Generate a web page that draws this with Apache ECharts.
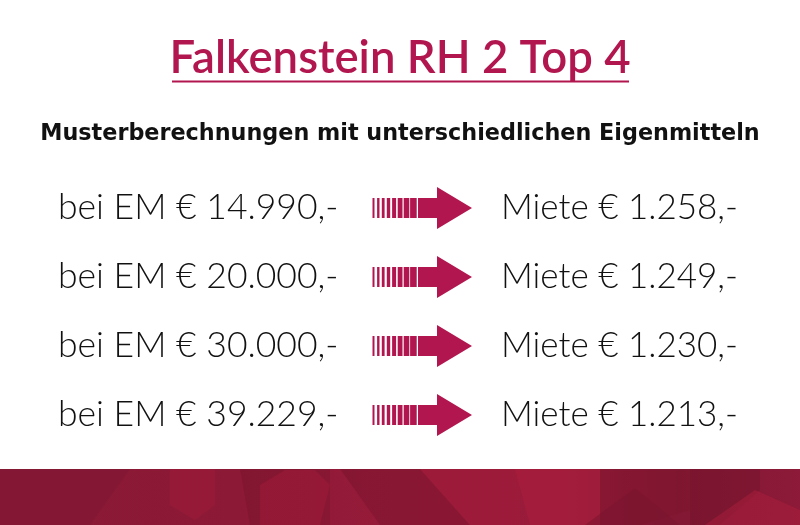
<!DOCTYPE html>
<html>
<head>
<meta charset="utf-8">
<script src="https://cdn.jsdelivr.net/npm/echarts@6/dist/echarts.min.js"></script>
<style>
html,body{margin:0;padding:0;background:#fff;}
#c{width:800px;height:525px;}
</style>
</head>
<body>
<div id="c"></div>
<script>
// ---- data ----
const titleText = 'Falkenstein RH 2 Top 4';
const subtitleText = 'Musterberechnungen mit unterschiedlichen Eigenmitteln';
const eigenmittel = [14990, 20000, 30000, 39229];
const miete = [1258, 1249, 1230, 1213];
const rowLabels = ['A', 'B', 'C', 'D'];

// ---- style ----
const accent = '#B2164F';
const textFont = 'Lato';

function fmt(n) {
  return String(n).replace(/\B(?=(\d{3})+(?!\d))/g, '.');
}

const chart = echarts.init(document.getElementById('c'), null, {renderer: 'canvas'});

const rowData = rowLabels.map((r, i) => [0, i]);

// dashed-to-solid arrow geometry (relative to arrow start, row centre)
const barSegs = [[0,2],[4.6,2.4],[9.3,2.8],[14.3,3.4],[19.6,4],[25.2,4.8],[31.2,5.6],[37.6,6.6]];
const solidStart = 45.5, headBase = 64.5, tip = 99.5, shaftHalf = 10, headHalf = 21;

function renderItem(params, api) {
  const idx = api.value(1);
  const y = api.coord([0, idx])[1];
  const ax = 372.5;
  const children = [];
  children.push({
    type: 'text',
    style: {
      x: 58, y: y,
      text: 'bei EM € ' + fmt(eigenmittel[idx]) + ',-',
      fill: '#111', font: '300 35.5px ' + textFont,
      verticalAlign: 'middle', align: 'left'
    }
  });
  barSegs.forEach(b => {
    children.push({
      type: 'rect',
      shape: {x: ax + b[0], y: y - shaftHalf, width: b[1], height: shaftHalf * 2},
      style: {fill: accent}
    });
  });
  children.push({
    type: 'polygon',
    shape: {points: [
      [ax + solidStart, y - shaftHalf], [ax + headBase, y - shaftHalf], [ax + headBase, y - headHalf],
      [ax + tip, y], [ax + headBase, y + headHalf], [ax + headBase, y + shaftHalf], [ax + solidStart, y + shaftHalf]
    ]},
    style: {fill: accent}
  });
  children.push({
    type: 'text',
    style: {
      x: 501, y: y,
      text: 'Miete € ' + fmt(miete[idx]) + ',-',
      fill: '#111', font: '300 35px ' + textFont,
      verticalAlign: 'middle', align: 'left'
    }
  });
  return {type: 'group', children: children};
}

// bottom band decorative polygons
const bandTop = 469;
const bandPolys = [
  {pts: [[0,bandTop],[130,bandTop],[90,525],[0,525]], c: 'rgba(120,20,45,0.35)'},
  {pts: [[170,bandTop],[215,bandTop],[215,505],[195,520],[170,505]], c: 'rgba(170,30,60,0.35)'},
  {pts: [[240,bandTop],[330,bandTop],[330,525],[250,525]], c: 'rgba(110,18,40,0.3)'},
  {pts: [[260,485],[285,470],[315,470],[330,485],[320,525],[260,525]], c: 'rgba(175,30,62,0.35)'},
  {pts: [[340,bandTop],[420,bandTop],[470,525],[380,525]], c: 'rgba(110,18,40,0.35)'},
  {pts: [[420,bandTop],[520,bandTop],[520,525],[470,525]], c: 'rgba(165,28,58,0.35)'},
  {pts: [[515,bandTop],[600,bandTop],[600,525],[530,525]], c: 'rgba(175,30,62,0.45)'},
  {pts: [[600,bandTop],[690,bandTop],[690,510],[640,525],[600,525]], c: 'rgba(125,20,45,0.45)'},
  {pts: [[585,525],[635,488],[680,525]], c: 'rgba(120,20,45,0.5)'},
  {pts: [[690,bandTop],[760,bandTop],[760,490],[720,525],[690,525]], c: 'rgba(110,18,40,0.35)'},
  {pts: [[705,525],[755,490],[800,510],[800,525]], c: 'rgba(175,30,62,0.45)'}
];

const graphics = [
  {
    type: 'line', z: 10,
    shape: {x1: 172, y1: 81.5, x2: 629, y2: 81.5},
    style: {stroke: accent, lineWidth: 2}
  },
  {
    type: 'rect', z: 1,
    shape: {x: 0, y: bandTop, width: 800, height: 525 - bandTop},
    style: {
      fill: new echarts.graphic.LinearGradient(0, 0, 1, 0, [
        {offset: 0, color: '#8A1A37'},
        {offset: 0.3, color: '#8C1935'},
        {offset: 0.5, color: '#971B3A'},
        {offset: 0.7, color: '#9A1B3B'},
        {offset: 0.85, color: '#821833'},
        {offset: 1, color: '#8C1A38'}
      ])
    }
  }
].concat(bandPolys.map(p => ({
  type: 'polygon', z: 2,
  shape: {points: p.pts},
  style: {fill: p.c}
})));

chart.setOption({
  backgroundColor: '#ffffff',
  animation: false,
  title: [
    {
      text: titleText,
      left: 'center', top: 30,
      textStyle: {fontFamily: textFont, fontWeight: 600, fontSize: 45.5, color: accent}
    },
    {
      text: subtitleText,
      left: 'center', top: 118,
      textStyle: {fontFamily: 'DejaVu Sans', fontWeight: 700, fontSize: 22.3, color: '#111'}
    }
  ],
  grid: {left: 0, right: 0, top: 173.5, height: 276},
  xAxis: {type: 'value', show: false, min: 0, max: 1},
  yAxis: {type: 'category', show: false, inverse: true, data: rowLabels},
  series: [{
    type: 'custom',
    renderItem: renderItem,
    data: rowData,
    silent: true
  }],
  graphic: graphics
});
</script>
</body>
</html>
